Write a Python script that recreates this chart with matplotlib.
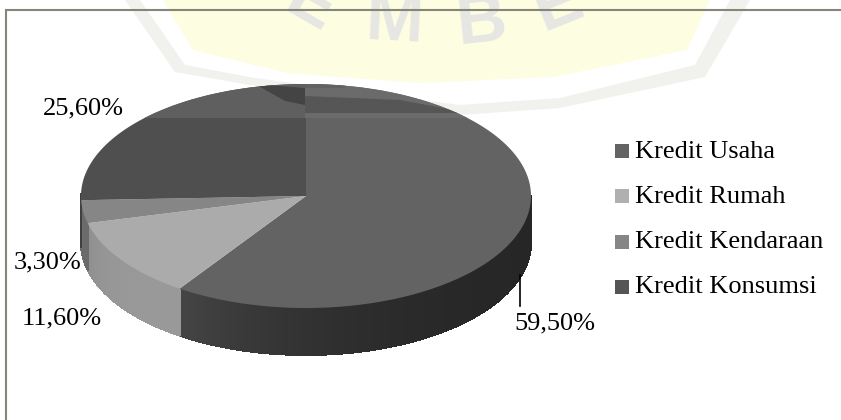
import numpy as np
import matplotlib
matplotlib.use("Agg")
import matplotlib.pyplot as plt
from matplotlib.patches import Polygon, Rectangle, Ellipse

categories = ["Kredit Usaha", "Kredit Rumah", "Kredit Kendaraan", "Kredit Konsumsi"]
shares = [59.5, 11.6, 3.3, 25.6]
labels = ["59,50%", "11,60%", "3,30%", "25,60%"]
top_colors = ["#636363", "#ababab", "#868686", "#4f4f4f"]
legend_colors = ["#646464", "#b0b0b0", "#868686", "#555555"]
side_shades = [(0.15, 0.27), (0.60, 0.56), (0.42, 0.42), (0.25, 0.25)]
W, H = 841, 420
cx, cy, a, b, depth = 306, 196, 225, 112, 47
font = ["Liberation Serif", "DejaVu Serif"]
wm_font = ["Liberation Sans", "DejaVu Sans"]

fig = plt.figure(figsize=(W / 100, H / 100), dpi=100, facecolor="white")
ax = fig.add_axes([0, 0, 1, 1])
ax.set_xlim(0, W)
ax.set_ylim(H, 0)
ax.axis("off")

# watermark
ax.add_patch(Polygon([(125, 0), (175, 72), (250, 85), (460, 115), (560, 108), (705, 77), (750, 0)],
                     closed=True, fc="#f1f1ee", ec="none", zorder=0))
ax.add_patch(Polygon([(140, 0), (185, 65), (255, 78), (460, 105), (560, 98), (695, 65), (730, 0)],
                     closed=True, fc="white", ec="none", zorder=0.1))
ax.add_patch(Polygon([(163, 0), (193, 50), (287, 73), (420, 83), (553, 77), (687, 50), (710, 0)],
                     closed=True, fc="#fdfde2", ec="none", zorder=0.2))
for s, x, y, r in [("E", 310, 6, -30), ("M", 394, 23, -3), ("B", 481, 23, 6), ("E", 558, 6, 22)]:
    ax.text(x, y, s, family=wm_font, fontsize=50, fontweight="bold", color="#e6e6e2",
            ha="center", va="center", rotation=r, zorder=0.3)

# frame
ax.plot([6.5, 6.5, 841], [420, 9.5, 9.5], color="#858578", lw=1.5, zorder=1, solid_joinstyle="miter")

# slices run clockwise from 12 o'clock
edges = np.cumsum([0] + shares) / 100 * 2 * np.pi

def pt(t):
    return cx + a * np.sin(t), cy - b * np.cos(t)

# side wall, shaded across the part that faces the viewer
for i in range(4):
    t0, t1 = edges[i], edges[i + 1]
    vis = max(t0, np.pi / 2)
    if vis >= t1:
        continue
    ts = np.linspace(vis, min(t1, 1.5 * np.pi + 0.02) if t1 > 1.5 * np.pi + 0.02 else t1,
                     max(2, int((t1 - vis) / 0.012)))
    for p, q in zip(ts[:-1], ts[1:]):
        m = (p + q) / 2
        f = ((m - vis) / (ts[-1] - vis)) ** 3
        g = side_shades[i][0] + (side_shades[i][1] - side_shades[i][0]) * f
        x0, y0 = pt(p)
        x1, y1 = pt(q)
        ax.add_patch(Polygon([(x0, y0), (x1, y1), (x1, y1 + depth), (x0, y0 + depth)],
                             closed=True, fc=str(g), ec=str(g), lw=0.7, antialiased=False, zorder=2))

# top face
for i in range(4):
    ts = np.linspace(edges[i], edges[i + 1], 200)
    xs, ys = pt(ts)
    ax.fill(np.r_[cx, xs], np.r_[cy, ys], fc=top_colors[i], ec="none", zorder=3)

# glossy bands along the rear rim, clipped to the top ellipse
clip = Ellipse((cx, cy), 2 * a, 2 * b, transform=ax.transData)
bands = [
    ([(70, 70), (305, 70), (305, 118), (70, 118)], "#5f5f5f"),
    ([(305, 70), (540, 70), (540, 118), (305, 118)], "#6b6b6b"),
    ([(255, 84), (305, 88), (305, 105), (285, 101)], "#444444"),
    ([(305, 96), (400, 100), (470, 113), (305, 113)], "#565656"),
    ([(305, 70), (345, 70), (345, 88), (305, 88)], "#626262"),
]
for verts, c in bands:
    patch = Polygon(verts, closed=True, fc=c, ec="none", zorder=3.5)
    ax.add_patch(patch)
    patch.set_clip_path(clip)

# leader line and value labels
ax.plot([520, 520], [275, 306], color="black", lw=1.2, zorder=5)
pos = [(555, 323), (62, 318), (48, 262), (83, 108)]
for lab, (x, y) in zip(labels, pos):
    ax.text(x, y, lab, family=font, fontsize=19, color="black", ha="center", va="center", zorder=6)

# legend
for i, c in enumerate(categories):
    y = 151 + i * 45.3
    ax.add_patch(Rectangle((615, y - 7), 14, 14, fc=legend_colors[i], ec="none", zorder=5))
    ax.text(635.5, y + 0.5, c, family=font, fontsize=19, color="black", ha="left", va="center", zorder=6)

fig.savefig("out.png", dpi=100)
